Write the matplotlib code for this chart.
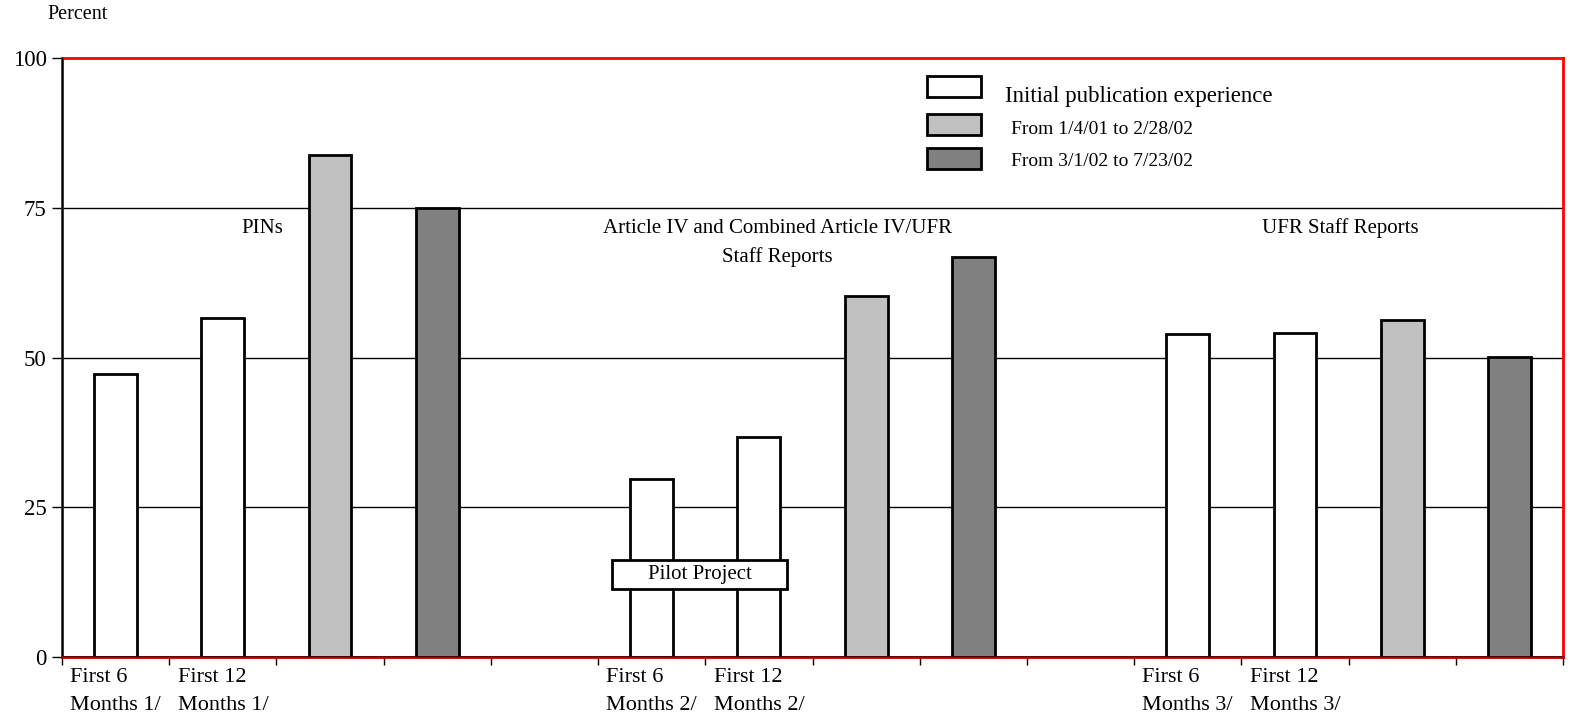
import matplotlib.pyplot as plt
from matplotlib.patches import Rectangle
import numpy as np

plt.rcParams['font.family'] = ['Liberation Serif', 'DejaVu Serif']

# Data (percent), 14 slots; slots 4 and 9 are empty spacers
values = [47.2, 56.6, 83.8, 75.0, np.nan,
          29.7, 36.7, 60.3, 66.8, np.nan,
          53.9, 54.1, 56.3, 50.1]
series = [0, 0, 1, 2, None,
          0, 0, 1, 2, None,
          0, 0, 1, 2]
tick_labels = ['First 6\nMonths 1/', 'First 12\nMonths 1/', '', '', '',
               'First 6\nMonths 2/', 'First 12\nMonths 2/', '', '', '',
               'First 6\nMonths 3/', 'First 12\nMonths 3/', '', '']
series_names = ['Initial publication experience',
                'From 1/4/01 to 2/28/02',
                'From 3/1/02 to 7/23/02']
series_colors = ['white', '#c0c0c0', '#808080']
group_titles = ['PINs', 'Article IV and Combined Article IV/UFR\nStaff Reports',
                'UFR Staff Reports']
group_title_x = [1.37, 6.17, 11.42]

fig = plt.figure(figsize=(15.85, 7.27), dpi=100)
ax = fig.add_axes([62/1585, 1 - 657/727, 1501/1585, 599/727])

x = np.arange(len(values))
for xi, v, s in zip(x, values, series):
    if s is None:
        continue
    ax.bar(xi, v, width=0.4, color=series_colors[s], edgecolor='black',
           linewidth=2, zorder=3)

ax.set_xlim(-0.5, len(values) - 0.5)
ax.set_ylim(0, 100)

# gridlines
for g in [25, 50, 75]:
    ax.axhline(g, color='black', lw=1, zorder=1)

# spines
for side in ['top', 'right']:
    ax.spines[side].set_color('red')
    ax.spines[side].set_linewidth(2)
for side in ['left', 'bottom']:
    ax.spines[side].set_color('#b00000')
    ax.spines[side].set_linewidth(2)
ax.axvline(-0.5, color='black', lw=1, zorder=4)
ax.axhline(0, color='#5a0000', lw=1.2, zorder=4)

ax.set_yticks([0, 25, 50, 75, 100])
ax.tick_params(axis='y', length=7, width=1, color='black', labelsize=16.5, pad=4)

ax.set_xticks(x)
ax.set_xticklabels(tick_labels, fontsize=16, linespacing=1.6,
                   multialignment='left', va='top')
ax.tick_params(axis='x', which='major', length=0, pad=8)
ax.set_xticks(np.arange(-0.5, len(values)), minor=True)
ax.tick_params(axis='x', which='minor', length=6, width=1, color='black')

ax.text(-0.01, 1.072, 'Percent', transform=ax.transAxes, fontsize=14.5,
        ha='left', va='center')

# group titles
for tx, t in zip(group_title_x, group_titles):
    ax.text(tx, 73.2, t, ha='center', va='top', fontsize=15, linespacing=1.65,
            zorder=5)

# pilot project box
ax.add_patch(Rectangle((0.3665, 0.1135), 0.1166, 0.0484, transform=ax.transAxes,
                       facecolor='white', edgecolor='black', lw=2, zorder=6))
ax.text(0.3665 + 0.0583, 0.1135 + 0.0242, 'Pilot Project', transform=ax.transAxes,
        ha='center', va='center', fontsize=15, zorder=7)

# legend
leg_box_y = [0.935, 0.871, 0.815]
leg_text_y = [0.935, 0.881, 0.828]
leg_text_x = [0.628, 0.632, 0.632]
for i, name in enumerate(series_names):
    ax.add_patch(Rectangle((0.576, leg_box_y[i]), 0.036, 0.035,
                           transform=ax.transAxes, facecolor=series_colors[i],
                           edgecolor='black', lw=2, zorder=6))
    ax.text(leg_text_x[i], leg_text_y[i], name, transform=ax.transAxes,
            ha='left', va='center', fontsize=16.5 if i == 0 else 14, zorder=7)

fig.savefig('out.png', dpi=100)
